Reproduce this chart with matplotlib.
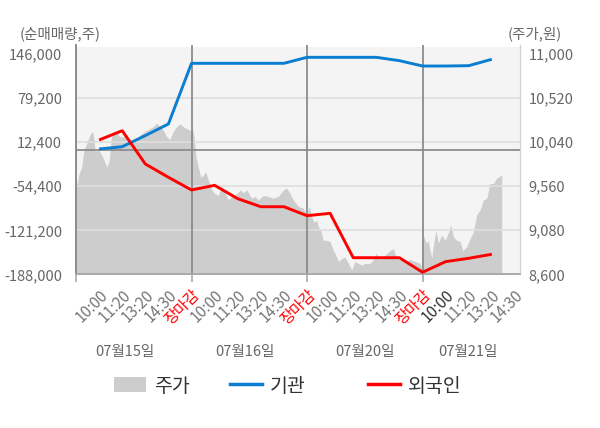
import numpy as np
import matplotlib
matplotlib.use("Agg")
import matplotlib.pyplot as plt
import matplotlib.transforms as mtransforms
from matplotlib.patches import Patch
from matplotlib.lines import Line2D

plt.rcParams['font.family'] = ['Noto Sans CJK KR', 'DejaVu Sans']

# x positions are in trading-day units (one day = 1.0)
flow_x = [0.2, 0.4, 0.6, 0.8, 1.0, 1.2, 1.4, 1.6, 1.8, 2.0,
          2.2, 2.4, 2.6, 2.8, 3.0, 3.2, 3.4, 3.6]
inst_net = [2200, 5700, 22600, 40200, 132300, 132300, 132300, 132300, 132300, 141400,
            141400, 141400, 141400, 136300, 128200, 128200, 128700, 138400]
foreign_net = [15900, 30000, -20500, -40700, -60000, -52900, -73200, -85400, -85400, -99000,
               -95400, -162800, -162800, -162800, -184900, -168800, -163700, -157600]

price_x = [0.000, 0.013, 0.022, 0.049, 0.069, 0.093, 0.121, 0.145, 0.156, 0.165,
           0.193, 0.223, 0.242, 0.266, 0.286, 0.294, 0.309, 0.338, 0.381, 0.424,
           0.468, 0.496, 0.526, 0.554, 0.612, 0.669, 0.699, 0.727, 0.756, 0.785,
           0.814, 0.842, 0.872, 0.900, 0.929, 0.958, 0.987,
           1.013, 1.022, 1.039, 1.059, 1.080, 1.102, 1.123, 1.145, 1.175, 1.203,
           1.232, 1.261, 1.290, 1.319, 1.348, 1.377, 1.420, 1.448, 1.478, 1.521,
           1.550, 1.578, 1.622, 1.665, 1.708, 1.752, 1.795, 1.824, 1.853, 1.881,
           1.925, 1.968, 1.997,
           2.020, 2.041, 2.061, 2.084, 2.098, 2.119, 2.141, 2.171, 2.199, 2.228,
           2.242, 2.271, 2.300, 2.329, 2.358, 2.387, 2.416, 2.444, 2.474, 2.502,
           2.545, 2.574, 2.597, 2.632, 2.661, 2.690, 2.719, 2.747, 2.777, 2.805,
           2.848, 2.892, 2.935, 2.978, 2.996,
           3.007, 3.022, 3.036, 3.050, 3.065, 3.080, 3.100, 3.117, 3.137, 3.166,
           3.195, 3.223, 3.244, 3.267, 3.296, 3.325, 3.348, 3.383, 3.411, 3.440,
           3.469, 3.498, 3.527, 3.556, 3.584, 3.613, 3.643, 3.671, 3.686]
price = [9670, 9570, 9680, 9770, 9960, 10030, 10120, 10160, 10070, 9940,
         9960, 9900, 9850, 9770, 9830, 9920, 10140, 10160, 10100, 10100,
         10070, 10030, 10080, 10120, 10170, 10210, 10250, 10210, 10170, 10100,
         10070, 10160, 10210, 10240, 10210, 10190, 10170,
         10170, 10090, 9880, 9770, 9660, 9680, 9720, 9630, 9520, 9480,
         9460, 9560, 9490, 9410, 9450, 9460, 9520, 9490, 9520, 9430,
         9450, 9410, 9460, 9450, 9430, 9450, 9520, 9540, 9480, 9410,
         9340, 9320, 9260,
         9340, 9230, 9170, 9190, 9120, 9080, 8970, 8970, 8960, 8860,
         8830, 8740, 8770, 8790, 8720, 8650, 8740, 8720, 8700, 8720,
         8720, 8760, 8830, 8760, 8790, 8830, 8860, 8880, 8770, 8760,
         8740, 8760, 8740, 8720, 8650,
         9030, 8970, 8940, 8970, 8860, 8780, 8960, 9080, 8940, 9030,
         8970, 9050, 9140, 9010, 8970, 8960, 8860, 8900, 8990, 9060,
         9250, 9300, 9410, 9430, 9590, 9590, 9650, 9670, 9680]

left_ticks = [-188000, -121200, -54400, 12400, 79200, 146000]
right_ticks = [8600, 9080, 9560, 10040, 10520, 11000]
time_labels = ['10:00', '11:20', '13:20', '14:30', '장마감'] * 3 + ['10:00', '11:20', '13:20', '14:30']
time_pos = [0.2 * (i + 1) for i in range(len(time_labels))]
day_labels = ['07월15일', '07월16일', '07월20일', '07월21일']
day_label_pos = [0.424, 1.463, 2.502, 3.394]
legend_names = ['주가', '기관', '외국인']

fig = plt.figure(figsize=(6, 4.28), dpi=100)
ax = fig.add_axes([76 / 600, 1 - 274.3 / 428, 444 / 600, 229.3 / 428])
ax2 = ax.twinx()

# price lives on the base axes (drawn underneath), net buying on the twin
ax.yaxis.tick_right()
ax2.yaxis.tick_left()
ax2.yaxis.set_label_position('left')

ax.set_xlim(0, 3.844)
ax.set_ylim(8600, 11101)
ax2.set_ylim(-188000, 160100)

ax.axhspan(8600, 11075, color='#f4f4f4', zorder=0, lw=0)
ax.fill_between(price_x, 8600, price, color='#cdcdcd', lw=0, zorder=1)
for t in right_ticks[1:-1]:
    ax.axhline(t, color='#dedede', lw=1.2, zorder=2)

ax2.axhline(0, color='#8c8c8c', lw=1.3, zorder=1)
for d in [1, 2, 3]:
    ax2.axvline(d, color='#8c8c8c', lw=1.3, zorder=1)

ax2.plot(flow_x, inst_net, color='#0a7ed0', lw=2.1, zorder=3, solid_capstyle='butt')
ax2.plot(flow_x, foreign_net, color='#ff0000', lw=2.1, zorder=4, solid_capstyle='butt')

ax.set_yticks(right_ticks)
ax.set_yticklabels(['{:,}'.format(t) for t in right_ticks])
ax2.set_yticks(left_ticks)
ax2.set_yticklabels(['{:,}'.format(t) for t in left_ticks])
ax.tick_params(axis='y', length=0, pad=6, labelsize=10.5, labelcolor='#666666')
ax2.tick_params(axis='y', length=0, pad=10, labelsize=10.5, labelcolor='#666666')

ax.set_xticks(time_pos)
ax.set_xticklabels(time_labels, rotation=45, ha='right', va='top', rotation_mode='anchor')
ax.set_xticks([0, 1, 2, 3], minor=True)
ax.xaxis.remove_overlapping_locs = False
ax.tick_params(axis='x', which='major', length=0, pad=9, labelsize=11, labelcolor='#777777')
ax.tick_params(axis='x', which='minor', length=6, color='#aaaaaa', width=1.2)
for i, lab in enumerate(ax.get_xticklabels()):
    if time_labels[i] == '장마감':
        lab.set_color('#ff0000')
    elif i == 15:
        lab.set_color('#333333')

for a in (ax, ax2):
    a.spines['top'].set_visible(False)
    a.spines['left'].set_color('#8c8c8c')
    a.spines['right'].set_color('#d0d0d0')
    a.spines['bottom'].set_color('#aaaaaa')
    a.spines['left'].set_linewidth(1.2)
    a.spines['bottom'].set_linewidth(1.2)
ax2.tick_params(axis='x', length=0)

trans = mtransforms.blended_transform_factory(ax.transData, ax.transAxes)
for xp, lab in zip(day_label_pos, day_labels):
    ax.text(xp, -0.339, lab, transform=trans, ha='center', va='center',
            fontsize=10.5, color='#666666')

fig.text(60 / 600, 1 - 34 / 428, '(순매매량,주)', ha='center', va='center', fontsize=10.5, color='#666666')
fig.text(535 / 600, 1 - 34 / 428, '(주가,원)', ha='center', va='center', fontsize=10.5, color='#666666')

# one legend per entry so each can sit where the reference puts it
handles = [Patch(facecolor='#cdcdcd', edgecolor='none'),
           Line2D([], [], color='#0a7ed0', lw=2.5),
           Line2D([], [], color='#ff0000', lw=2.5)]
legend_left = [114, 230, 368]
for h, name, xl in zip(handles, legend_names, legend_left):
    fig.legend([h], [name], loc='center left', bbox_to_anchor=(xl / 600, 1 - 386 / 428),
               frameon=False, fontsize=14, handlelength=1.65, handleheight=0.8,
               handletextpad=0.4, borderpad=0, borderaxespad=0, labelcolor='#333333')

fig.savefig("out.png", dpi=100)
